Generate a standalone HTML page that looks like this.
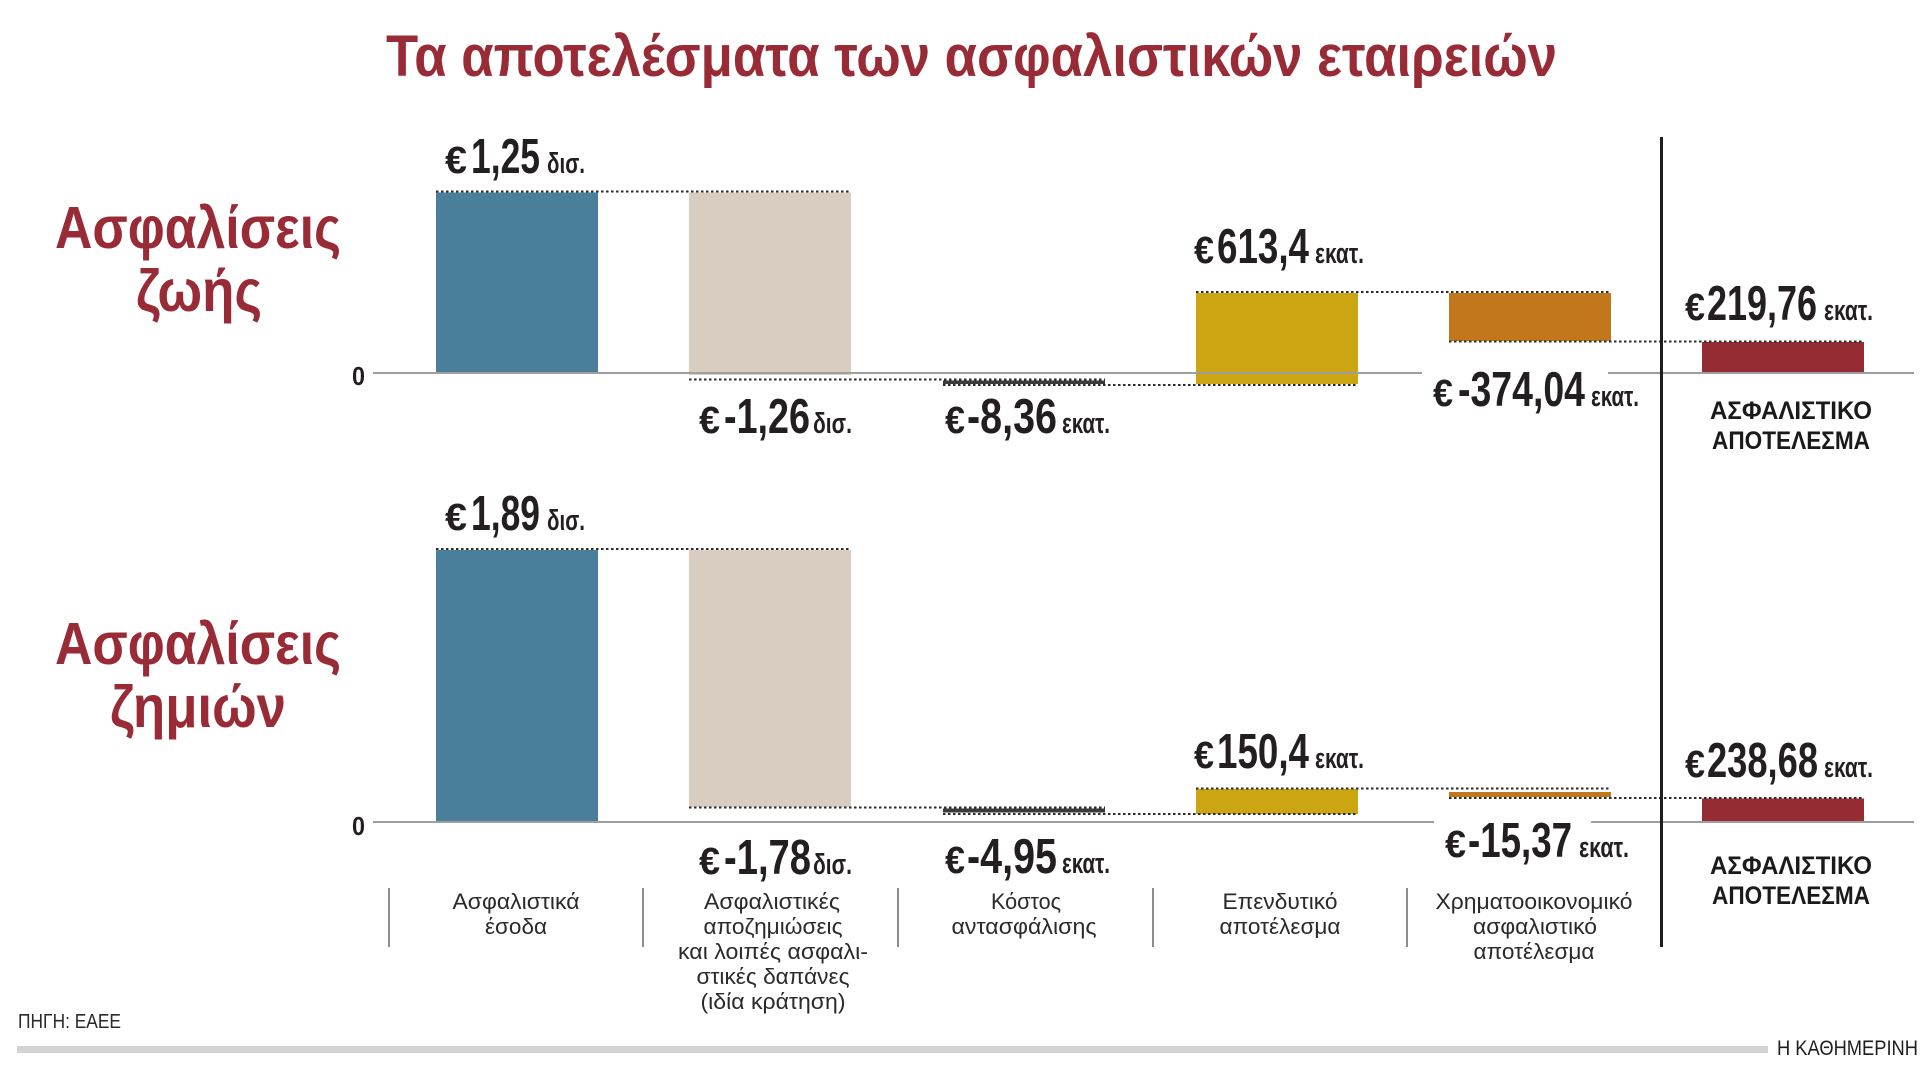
<!DOCTYPE html>
<html>
<head>
<meta charset="utf-8">
<style>
html,body{margin:0;padding:0;background:#fff;}
body{width:1920px;height:1080px;overflow:hidden;}
svg{display:block;}
text{font-family:"Liberation Sans","DejaVu Sans",sans-serif;}
.t{font-weight:bold;fill:#982b36;}
.n{font-weight:bold;fill:#231f20;font-size:49px;}
.e{font-weight:bold;fill:#231f20;font-size:38px;}
.u{font-weight:bold;fill:#231f20;font-size:29px;}
.c{fill:#2a2a2a;font-size:22px;}
.r{font-weight:bold;fill:#1a1a1a;font-size:25px;}
.dot{stroke:#2b2b2b;stroke-width:2;stroke-dasharray:2.5 2.5;fill:none;}
.ax{stroke:#9e9e9e;stroke-width:2;}
.tk{stroke:#666;stroke-width:1.5;}
</style>
</head>
<body>
<svg width="1920" height="1080" viewBox="0 0 1920 1080" xmlns="http://www.w3.org/2000/svg">
<rect width="1920" height="1080" fill="#fff"/>

<!-- Title -->
<text class="t" x="386" y="76" font-size="58" textLength="1171" lengthAdjust="spacingAndGlyphs">Τα αποτελέσματα των ασφαλιστικών εταιρειών</text>

<!-- Left labels -->
<text class="t" x="55" y="248" font-size="59" textLength="286" lengthAdjust="spacingAndGlyphs">Ασφαλίσεις</text>
<text class="t" x="136" y="311" font-size="59" textLength="126" lengthAdjust="spacingAndGlyphs">ζωής</text>
<text class="t" x="55" y="664" font-size="59" textLength="286" lengthAdjust="spacingAndGlyphs">Ασφαλίσεις</text>
<text class="t" x="110" y="727" font-size="59" textLength="176" lengthAdjust="spacingAndGlyphs">ζημιών</text>

<!-- ===== Panel 1 ===== -->
<rect x="436" y="192.5" width="162" height="180.5" fill="#4a7f9b"/>
<rect x="689" y="192.5" width="162" height="182.5" fill="#d9cdc1"/>
<rect x="943" y="380.5" width="162" height="3.5" fill="#3a3a3a"/>
<rect x="1196" y="293" width="162" height="91" fill="#cba512"/>
<rect x="1449" y="293" width="162" height="48" fill="#c2771c"/>
<rect x="1702" y="342" width="162" height="31" fill="#952c34"/>
<line class="ax" x1="373" y1="373" x2="1422" y2="373"/>
<line class="ax" x1="1608" y1="373" x2="1914" y2="373"/>
<line class="dot" x1="436" y1="191.5" x2="851" y2="191.5"/>
<line class="dot" x1="689" y1="379.5" x2="1105" y2="379.5"/>
<line class="dot" x1="943" y1="385" x2="1358" y2="385"/>
<line class="dot" x1="1196" y1="292" x2="1611" y2="292"/>
<line class="dot" x1="1449" y1="341.5" x2="1864" y2="341.5"/>
<text x="352" y="385" font-size="26" font-weight="bold" fill="#231f20" textLength="13" lengthAdjust="spacingAndGlyphs">0</text>

<text class="e" x="445" y="173" textLength="22" lengthAdjust="spacingAndGlyphs">€</text>
<text class="n" x="471" y="173" textLength="69" lengthAdjust="spacingAndGlyphs">1,25</text>
<text class="u" x="547" y="173" textLength="38" lengthAdjust="spacingAndGlyphs">δισ.</text>

<text class="e" x="699" y="433" textLength="21" lengthAdjust="spacingAndGlyphs">€</text>
<text class="n" x="724" y="433" textLength="86" lengthAdjust="spacingAndGlyphs">-1,26</text>
<text class="u" x="813" y="433" textLength="39" lengthAdjust="spacingAndGlyphs">δισ.</text>

<text class="e" x="945" y="433" textLength="20" lengthAdjust="spacingAndGlyphs">€</text>
<text class="n" x="967" y="433" textLength="90" lengthAdjust="spacingAndGlyphs">-8,36</text>
<text class="u" x="1062" y="433" textLength="48" lengthAdjust="spacingAndGlyphs">εκατ.</text>

<text class="e" x="1194" y="263" textLength="20" lengthAdjust="spacingAndGlyphs">€</text>
<text class="n" x="1217" y="263" textLength="92" lengthAdjust="spacingAndGlyphs">613,4</text>
<text class="u" x="1315" y="263" textLength="49" lengthAdjust="spacingAndGlyphs">εκατ.</text>

<text class="e" x="1433" y="406" textLength="20" lengthAdjust="spacingAndGlyphs">€</text>
<text class="n" x="1458" y="406" textLength="127" lengthAdjust="spacingAndGlyphs">-374,04</text>
<text class="u" x="1591" y="406" textLength="48" lengthAdjust="spacingAndGlyphs">εκατ.</text>

<text class="e" x="1685" y="320" textLength="20" lengthAdjust="spacingAndGlyphs">€</text>
<text class="n" x="1707" y="320" textLength="110" lengthAdjust="spacingAndGlyphs">219,76</text>
<text class="u" x="1824" y="320" textLength="49" lengthAdjust="spacingAndGlyphs">εκατ.</text>

<text class="r" x="1710" y="419" textLength="162" lengthAdjust="spacingAndGlyphs">ΑΣΦΑΛΙΣΤΙΚΟ</text>
<text class="r" x="1712" y="449" textLength="158" lengthAdjust="spacingAndGlyphs">ΑΠΟΤΕΛΕΣΜΑ</text>

<!-- ===== Panel 2 ===== -->
<rect x="436" y="550" width="162" height="272" fill="#4a7f9b"/>
<rect x="689" y="550" width="162" height="257" fill="#d9cdc1"/>
<rect x="943" y="808.5" width="162" height="4" fill="#3a3a3a"/>
<rect x="1196" y="789" width="162" height="25" fill="#cba512"/>
<rect x="1449" y="792" width="162" height="5" fill="#c2771c"/>
<rect x="1702" y="798.5" width="162" height="23.5" fill="#952c34"/>
<line class="ax" x1="373" y1="822" x2="1434" y2="822"/>
<line class="ax" x1="1591" y1="822" x2="1914" y2="822"/>
<line class="dot" x1="436" y1="549" x2="851" y2="549"/>
<line class="dot" x1="689" y1="807.5" x2="1105" y2="807.5"/>
<line class="dot" x1="943" y1="814" x2="1358" y2="814"/>
<line class="dot" x1="1196" y1="788.5" x2="1611" y2="788.5"/>
<line class="dot" x1="1449" y1="798" x2="1864" y2="798"/>
<text x="352" y="835" font-size="26" font-weight="bold" fill="#231f20" textLength="13" lengthAdjust="spacingAndGlyphs">0</text>

<text class="e" x="445" y="530" textLength="22" lengthAdjust="spacingAndGlyphs">€</text>
<text class="n" x="471" y="530" textLength="69" lengthAdjust="spacingAndGlyphs">1,89</text>
<text class="u" x="547" y="530" textLength="38" lengthAdjust="spacingAndGlyphs">δισ.</text>

<text class="e" x="699" y="874" textLength="21" lengthAdjust="spacingAndGlyphs">€</text>
<text class="n" x="724" y="874" textLength="87" lengthAdjust="spacingAndGlyphs">-1,78</text>
<text class="u" x="813" y="874" textLength="39" lengthAdjust="spacingAndGlyphs">δισ.</text>

<text class="e" x="945" y="873" textLength="20" lengthAdjust="spacingAndGlyphs">€</text>
<text class="n" x="967" y="873" textLength="90" lengthAdjust="spacingAndGlyphs">-4,95</text>
<text class="u" x="1062" y="873" textLength="48" lengthAdjust="spacingAndGlyphs">εκατ.</text>

<text class="e" x="1194" y="768" textLength="20" lengthAdjust="spacingAndGlyphs">€</text>
<text class="n" x="1217" y="768" textLength="92" lengthAdjust="spacingAndGlyphs">150,4</text>
<text class="u" x="1315" y="768" textLength="49" lengthAdjust="spacingAndGlyphs">εκατ.</text>

<text class="e" x="1445" y="857" textLength="21" lengthAdjust="spacingAndGlyphs">€</text>
<text class="n" x="1468" y="857" textLength="104" lengthAdjust="spacingAndGlyphs">-15,37</text>
<text class="u" x="1579" y="857" textLength="50" lengthAdjust="spacingAndGlyphs">εκατ.</text>

<text class="e" x="1685" y="777" textLength="20" lengthAdjust="spacingAndGlyphs">€</text>
<text class="n" x="1707" y="777" textLength="111" lengthAdjust="spacingAndGlyphs">238,68</text>
<text class="u" x="1824" y="777" textLength="49" lengthAdjust="spacingAndGlyphs">εκατ.</text>

<text class="r" x="1710" y="874" textLength="162" lengthAdjust="spacingAndGlyphs">ΑΣΦΑΛΙΣΤΙΚΟ</text>
<text class="r" x="1712" y="904" textLength="158" lengthAdjust="spacingAndGlyphs">ΑΠΟΤΕΛΕΣΜΑ</text>

<!-- divider -->
<line x1="1661.5" y1="137" x2="1661.5" y2="947" stroke="#1e1e1e" stroke-width="3"/>

<!-- category ticks -->
<line class="tk" x1="389" y1="888" x2="389" y2="947"/>
<line class="tk" x1="643" y1="888" x2="643" y2="947"/>
<line class="tk" x1="898" y1="888" x2="898" y2="947"/>
<line class="tk" x1="1153" y1="888" x2="1153" y2="947"/>
<line class="tk" x1="1407" y1="888" x2="1407" y2="947"/>

<!-- category labels -->
<g text-anchor="middle">
<text class="c" x="516" y="909" textLength="127" lengthAdjust="spacingAndGlyphs">Ασφαλιστικά</text>
<text class="c" x="516" y="934" textLength="62" lengthAdjust="spacingAndGlyphs">έσοδα</text>

<text class="c" x="772" y="909" textLength="136" lengthAdjust="spacingAndGlyphs">Ασφαλιστικές</text>
<text class="c" x="773" y="934" textLength="139" lengthAdjust="spacingAndGlyphs">αποζημιώσεις</text>
<text class="c" x="773" y="959" textLength="190" lengthAdjust="spacingAndGlyphs">και λοιπές ασφαλι-</text>
<text class="c" x="773" y="984" textLength="153" lengthAdjust="spacingAndGlyphs">στικές δαπάνες</text>
<text class="c" x="773" y="1009" textLength="145" lengthAdjust="spacingAndGlyphs">(ιδία κράτηση)</text>

<text class="c" x="1026" y="909" textLength="70" lengthAdjust="spacingAndGlyphs">Κόστος</text>
<text class="c" x="1024" y="934" textLength="145" lengthAdjust="spacingAndGlyphs">αντασφάλισης</text>

<text class="c" x="1280" y="909" textLength="115" lengthAdjust="spacingAndGlyphs">Επενδυτικό</text>
<text class="c" x="1280" y="934" textLength="121" lengthAdjust="spacingAndGlyphs">αποτέλεσμα</text>

<text class="c" x="1534" y="909" textLength="197" lengthAdjust="spacingAndGlyphs">Χρηματοοικονομικό</text>
<text class="c" x="1535" y="934" textLength="124" lengthAdjust="spacingAndGlyphs">ασφαλιστικό</text>
<text class="c" x="1534" y="959" textLength="121" lengthAdjust="spacingAndGlyphs">αποτέλεσμα</text>
</g>

<!-- footer -->
<text x="18" y="1028" font-size="20" fill="#2a2a2a" textLength="103" lengthAdjust="spacingAndGlyphs">ΠΗΓΗ: ΕΑΕΕ</text>
<rect x="17" y="1046" width="1751" height="7" fill="#d3d3d3"/>
<text x="1777" y="1055" font-size="21" fill="#1e1e1e" textLength="141" lengthAdjust="spacingAndGlyphs">Η ΚΑΘΗΜΕΡΙΝΗ</text>
</svg>
</body>
</html>
